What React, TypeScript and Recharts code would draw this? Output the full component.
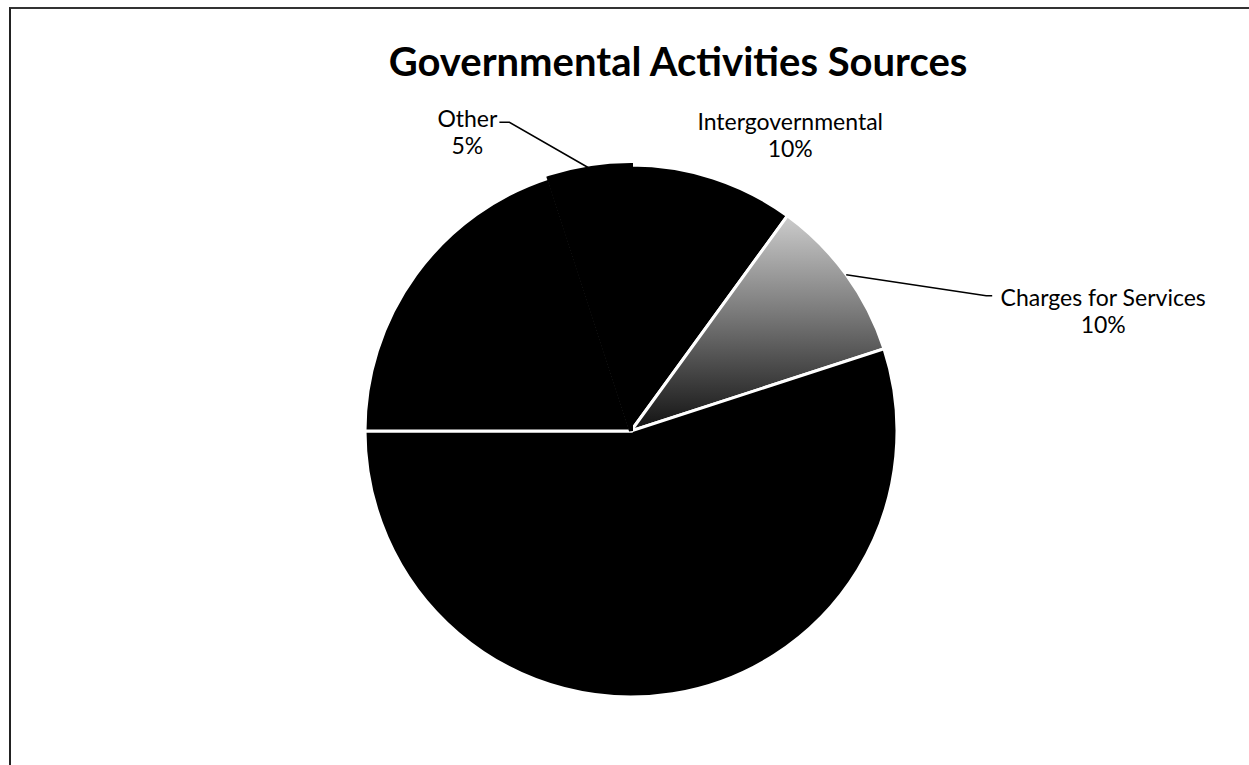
import React from 'react';
import { PieChart, Pie, Cell } from 'recharts';

// slices in Excel order: clockwise from 12 o'clock
const sourceNames = ['Intergovernmental', 'Charges for Services', 'Property Taxes', 'Other Taxes', 'Other'];
const sourceShares = [10, 10, 55, 20, 5];
const labelledSources = ['Intergovernmental', 'Charges for Services', 'Other'];

const data = sourceNames.map((name, i) => ({ name, value: sourceShares[i] }));

const fills: Record<string, string> = {
  Intergovernmental: '#000000',
  'Charges for Services': 'url(#chargesFill)',
  'Property Taxes': '#000000',
  'Other Taxes': '#000000',
  Other: '#000000',
};

// the scan shows no white seam around the small "Other" slice
const strokes: Record<string, string> = {
  Intergovernmental: '#fff',
  'Charges for Services': '#fff',
  'Property Taxes': '#fff',
  'Other Taxes': '#fff',
  Other: '#000',
};

// label offset from the slice's outer mid point, plus the leader end
const labelLayout: Record<string, { dx: number; dy: number; lx?: number; ly?: number; tx?: number }> = {
  Intergovernmental: { dx: 77, dy: -57 },
  'Charges for Services': { dx: 257, dy: 22, lx: 140, ly: 21, tx: 146 },
  Other: { dx: -122, dy: -50, lx: -80, ly: -46, tx: -90 },
};

const FONT = 'Lato, "Open Sans", sans-serif';

const renderLabel = (props: any) => {
  const { cx, cy, midAngle, outerRadius, name, value } = props;
  if (!labelledSources.includes(name)) return null;
  const rad = (Math.PI / 180) * midAngle;
  const ex = cx + outerRadius * Math.cos(rad);
  const ey = cy - outerRadius * Math.sin(rad);
  const l = labelLayout[name];
  const x = ex + l.dx;
  const y = ey + l.dy;
  return (
    <g>
      {l.lx !== undefined && (
        <polyline
          points={`${ex},${ey} ${ex + l.lx},${ey + (l.ly ?? 0)} ${ex + (l.tx ?? l.lx)},${ey + (l.ly ?? 0)}`}
          fill="none"
          stroke="#000"
          strokeWidth={1.5}
        />
      )}
      <text x={x} y={y} textAnchor="middle" dominantBaseline="central" fontFamily={FONT} fontSize={23} fill="#000">
        <tspan x={x} dy={0}>{name}</tspan>
        <tspan x={x} dy={27}>{`${value}%`}</tspan>
      </text>
    </g>
  );
};

const App = () => {
  return (
    <div
      style={{
        position: 'absolute',
        left: 0,
        top: 0,
        width: 1249,
        height: 765,
        background: '#fff',
        overflow: 'hidden',
      }}
    >
      <div
        style={{
          position: 'absolute',
          left: 9,
          top: 7,
          width: 1240,
          height: 758,
          borderTop: '2px solid #333',
          borderLeft: '2px solid #222',
        }}
      />
      <div
        style={{
          position: 'absolute',
          left: 0,
          width: 1356,
          top: 34,
          textAlign: 'center',
          fontFamily: FONT,
          fontWeight: 700,
          fontSize: 40,
          lineHeight: '54px',
          color: '#000',
        }}
      >
        Governmental Activities Sources
      </div>
      <PieChart
        width={1249}
        height={765}
        margin={{ top: 0, right: 0, bottom: 0, left: 0 }}
        style={{ position: 'absolute', left: 0, top: 0 }}
      >
        <defs>
          <linearGradient id="chargesFill" x1="0" y1="0" x2="0" y2="1">
            <stop offset="0%" stopColor="#cccccc" />
            <stop offset="45%" stopColor="#7a7a7a" />
            <stop offset="100%" stopColor="#111111" />
          </linearGradient>
        </defs>
        <Pie
          data={data}
          dataKey="value"
          nameKey="name"
          cx={631}
          cy={431}
          outerRadius={266}
          startAngle={90}
          endAngle={-270}
          strokeWidth={3}
          label={renderLabel}
          labelLine={false}
          isAnimationActive={false}
        >
          {data.map((entry) => (
            <Cell
              key={entry.name}
              fill={fills[entry.name]}
              stroke={strokes[entry.name]}
              strokeWidth={entry.name === 'Other' ? 4 : 3}
            />
          ))}
        </Pie>
      </PieChart>
    </div>
  );
};

export default App;
